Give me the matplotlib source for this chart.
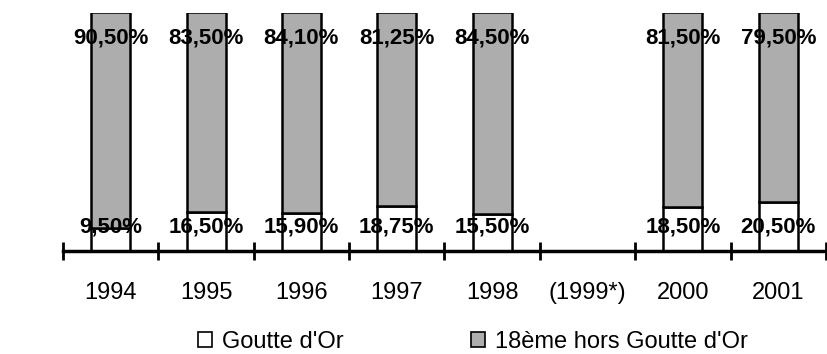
import numpy as np
import matplotlib.pyplot as plt
from matplotlib.patches import Patch

plt.rcParams['font.family'] = ['Liberation Sans', 'DejaVu Sans']

years = ['1994', '1995', '1996', '1997', '1998', '(1999*)', '2000', '2001']
goutte_dor = [9.50, 16.50, 15.90, 18.75, 15.50, np.nan, 18.50, 20.50]
hors_goutte = [90.50, 83.50, 84.10, 81.25, 84.50, np.nan, 81.50, 79.50]
series_names = ["Goutte d'Or", "18ème hors Goutte d'Or"]

GRAY = '#adadad'


def fmt(v):
    return f"{v:.2f}".replace('.', ',') + '%'


fig = plt.figure(figsize=(8.28, 3.54), dpi=100)
ax = fig.add_axes([63 / 828, 103 / 354, 763 / 828, 238 / 354])

x = np.arange(len(years))
ax.bar(x, goutte_dor, width=0.41, color='white', edgecolor='black', linewidth=1.8)
ax.bar(x, hors_goutte, width=0.41, bottom=goutte_dor, color=GRAY,
       edgecolor='black', linewidth=1.8)

# value labels
for xi, g, h in zip(x, goutte_dor, hors_goutte):
    if np.isnan(g):
        continue
    ax.text(xi, 89, fmt(h), ha='center', va='center', fontsize=16,
            fontweight='bold', color='black')
    ax.text(xi, 10, fmt(g), ha='center', va='center', fontsize=16,
            fontweight='bold', color='black')

ax.set_xlim(-0.5, len(years) - 0.5)
ax.set_ylim(0, 99.6)

for side in ['top', 'left', 'right']:
    ax.spines[side].set_visible(False)
ax.spines['bottom'].set_linewidth(2.5)
ax.set_yticks([])

# category boundaries as tick marks, labels in between
ax.set_xticks(np.arange(-0.5, len(years)), minor=True)
ax.tick_params(axis='x', which='minor', direction='inout', length=13, width=2)
ax.set_xticks(x)
ax.set_xticklabels(years, fontsize=17)
ax.tick_params(axis='x', which='major', length=0, pad=22)

handles = [Patch(facecolor='white', edgecolor='black', linewidth=1.2),
           Patch(facecolor=GRAY, edgecolor='black', linewidth=1.2)]
fig.legend(handles, series_names, loc='center', bbox_to_anchor=(0.571, 0.033),
           ncol=2, frameon=False, fontsize=17, handlelength=0.6, handleheight=0.6,
           handletextpad=0.4, columnspacing=5.4, borderpad=0)

fig.savefig('out.png', dpi=100, facecolor='white')
